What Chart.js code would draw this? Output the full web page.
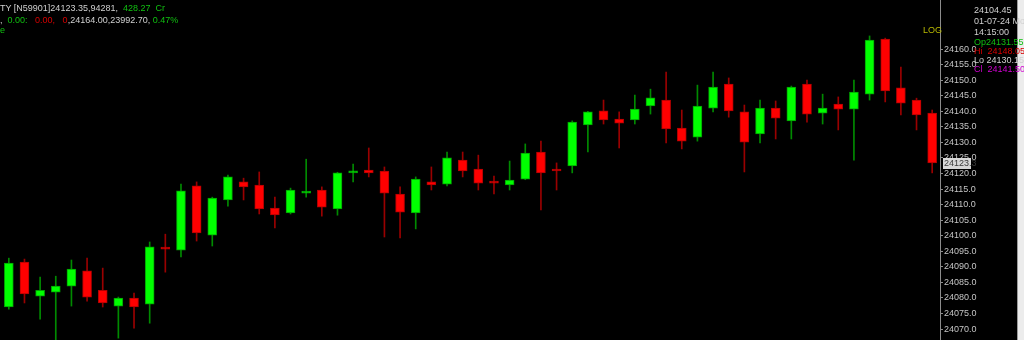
<!DOCTYPE html>
<html>
<head>
<meta charset="utf-8">
<script src="https://cdn.jsdelivr.net/npm/chart.js@4"></script>
<style>
  body { margin: 0; background: #000; overflow: hidden; }
  #wrap { position: relative; width: 1024px; height: 340px; background: #000; }
  #wrap canvas { position: absolute; left: 0; top: 0; }
  #edge { position: absolute; left: 1017px; top: 0; width: 6px; height: 340px; background: #ececec; border-left: 1px solid #9a9a9a; }
  .t { position: absolute; font: 9px "Liberation Sans", Arial, sans-serif; white-space: pre; line-height: 10px; color: #d0d0d0; }
  .g { color: #10c010; }
  .r { color: #d80000; }
  .m { color: #d000d0; }
</style>
</head>
<body>
<div id="wrap">
  <canvas id="candles" width="1018" height="340"></canvas>
  <div id="edge"></div>
  <div class="t" style="left:0;top:3px">TY [N59901]24123.35,94281,  <span class="g">428.27  Cr</span></div>
  <div class="t" style="left:0;top:15px">,  <span class="g">0.00:</span>   <span class="r">0.00,</span>   <span class="r">0</span>,24164.00,23992.70, <span class="g">0.47%</span></div>
  <div class="t g" style="left:0;top:25px">e</div>
  <div class="t" style="left:923px;top:25px;color:#b8b800">LOG</div>
  <div class="t" style="left:974px;top:5px">24104.45</div>
  <div class="t" style="left:974px;top:16px">01-07-24 Mo</div>
  <div class="t" style="left:974px;top:27px">14:15:00</div>
  <div class="t g" style="left:974px;top:37px">Op24131.55</div>
  <div class="t r" style="left:974px;top:46px">Hi  24148.05</div>
  <div class="t" style="left:974px;top:55px">Lo 24130.15</div>
  <div class="t m" style="left:974px;top:64px">Cl  24141.50</div>
</div>
<script>
// 60 intraday candles
const bars = Array.from({ length: 60 }, (_, i) => String(i + 1));

const opens = [
  24077.1, 24091.5, 24080.6, 24081.9, 24083.8, 24088.7, 24082.5, 24077.4, 24080.0, 24078.0,
  24096.0, 24095.4, 24116.0, 24100.2, 24111.5, 24117.3, 24116.3, 24108.9, 24107.3, 24113.7,
  24114.7, 24108.6, 24120.2, 24121.1, 24120.8, 24113.4, 24107.3, 24117.3, 24116.6, 24124.3,
  24121.4, 24117.3, 24116.3, 24118.2, 24126.9, 24121.4, 24122.4, 24135.6, 24140.1, 24137.5,
  24137.2, 24141.7, 24143.6, 24134.6, 24131.7, 24141.0, 24148.7, 24139.8, 24132.7, 24141.0,
  24136.9, 24148.7, 24139.4, 24142.3, 24140.7, 24145.5, 24163.2, 24147.5, 24143.6, 24139.4
];
const highs = [
  24092.8, 24092.5, 24086.7, 24087.0, 24092.2, 24092.8, 24089.6, 24080.3, 24081.6, 24098.0,
  24100.5, 24116.6, 24117.3, 24112.4, 24119.5, 24118.5, 24120.5, 24112.4, 24115.3, 24124.6,
  24115.7, 24120.4, 24123.0, 24128.2, 24122.1, 24115.7, 24118.9, 24122.1, 24126.9, 24126.9,
  24125.9, 24119.2, 24124.0, 24129.5, 24130.4, 24123.4, 24136.9, 24140.0, 24143.6, 24139.8,
  24145.2, 24147.1, 24152.6, 24140.4, 24148.4, 24152.6, 24150.7, 24142.0, 24143.6, 24143.3,
  24148.1, 24150.0, 24145.5, 24144.6, 24150.0, 24164.2, 24163.5, 24154.2, 24144.2, 24140.4
];
const lows = [
  24076.4, 24078.4, 24073.2, 24066.0, 24077.4, 24079.0, 24077.1, 24067.1, 24070.3, 24071.9,
  24088.3, 24093.2, 24098.3, 24096.7, 24109.5, 24111.5, 24107.0, 24102.5, 24107.0, 24112.4,
  24106.3, 24106.6, 24117.3, 24118.9, 24099.6, 24099.3, 24102.2, 24114.7, 24116.0, 24118.9,
  24114.7, 24113.4, 24114.7, 24118.0, 24108.3, 24114.7, 24120.2, 24126.9, 24135.9, 24128.2,
  24135.9, 24139.1, 24129.8, 24127.9, 24130.4, 24139.8, 24138.1, 24120.5, 24129.8, 24131.1,
  24131.1, 24136.5, 24135.9, 24134.0, 24124.3, 24143.6, 24143.0, 24138.8, 24134.0, 24120.2
];
const closes = [
  24091.2, 24081.3, 24082.5, 24083.8, 24089.3, 24080.3, 24078.4, 24080.0, 24077.1, 24096.4,
  24095.7, 24114.4, 24100.9, 24112.1, 24118.9, 24115.7, 24108.6, 24106.7, 24114.7, 24114.0,
  24109.2, 24120.2, 24120.8, 24120.2, 24113.7, 24107.6, 24118.2, 24116.3, 24125.0, 24120.8,
  24116.9, 24116.9, 24117.9, 24126.6, 24120.2, 24120.8, 24136.5, 24139.8, 24137.2, 24136.2,
  24140.7, 24144.3, 24134.3, 24130.4, 24141.7, 24147.8, 24140.1, 24130.1, 24141.0, 24137.8,
  24147.8, 24139.1, 24141.0, 24140.7, 24146.2, 24162.9, 24146.5, 24142.6, 24138.8, 24123.4
];
const priceTicks = [24070, 24075, 24080, 24085, 24090, 24095, 24100, 24105, 24110, 24115,
  24120, 24125, 24130, 24135, 24140, 24145, 24150, 24155, 24160];
const lastPrice = 24123.3;

const up = closes.map((c, i) => c >= opens[i]);

// grey box with the last traded price on the price axis
const lastPriceTag = {
  id: 'lastPriceTag',
  afterDraw(chart) {
    const y = chart.scales.y;
    const py = y.getPixelForValue(lastPrice);
    const ctx = chart.ctx;
    ctx.save();
    ctx.fillStyle = '#d6d6d6';
    ctx.fillRect(y.left + 3, Math.round(py) - 5, 28, 11);
    ctx.fillStyle = '#3a3a3a';
    ctx.font = '9px "Liberation Sans", Arial, sans-serif';
    ctx.textBaseline = 'middle';
    ctx.fillText(lastPrice.toFixed(1), y.left + 4, Math.round(py) + 1);
    ctx.restore();
  }
};

new Chart(document.getElementById('candles'), {
  type: 'bar',
  data: {
    labels: bars,
    datasets: [
      {
        label: 'Body',
        order: 0,
        data: opens.map((o, i) => [o, closes[i]]),
        backgroundColor: up.map(u => (u ? '#00ff00' : '#ff0000')),
        borderColor: up.map(u => (u ? '#00a000' : '#b00000')),
        borderWidth: 1,
        borderSkipped: false,
        barThickness: 9,
        minBarLength: 2,
        grouped: false,
      },
      {
        label: 'Wick',
        order: 1,
        data: lows.map((l, i) => [l, highs[i]]),
        backgroundColor: up.map(u => (u ? '#008a00' : '#9a0000')),
        borderWidth: 0,
        barThickness: 1,
        grouped: false,
      },
    ],
  },
  options: {
    responsive: false,
    animation: false,
    layout: { padding: { left: 1, top: 0, right: 0, bottom: 0 } },
    plugins: {
      legend: { display: false },
      tooltip: { enabled: false },
    },
    scales: {
      x: {
        display: false,
        offset: true,
      },
      y: {
        position: 'right',
        min: 24066.5,
        max: 24175.75,
        afterBuildTicks(scale) {
          scale.ticks = priceTicks.map(v => ({ value: v }));
        },
        afterFit(scale) {
          scale.width = 78;
          scale.paddingTop = 0;
          scale.paddingBottom = 0;
        },
        border: { display: true, color: '#8c8c8c', width: 1 },
        grid: { drawOnChartArea: false, drawTicks: true, tickLength: 3, color: '#8c8c8c' },
        ticks: {
          padding: 1,
          color: '#c4c4c4',
          font: { family: 'Liberation Sans', size: 9 },
          callback: v => Number(v).toFixed(1),
        },
      },
    },
  },
  plugins: [lastPriceTag],
});
</script>
</body>
</html>
